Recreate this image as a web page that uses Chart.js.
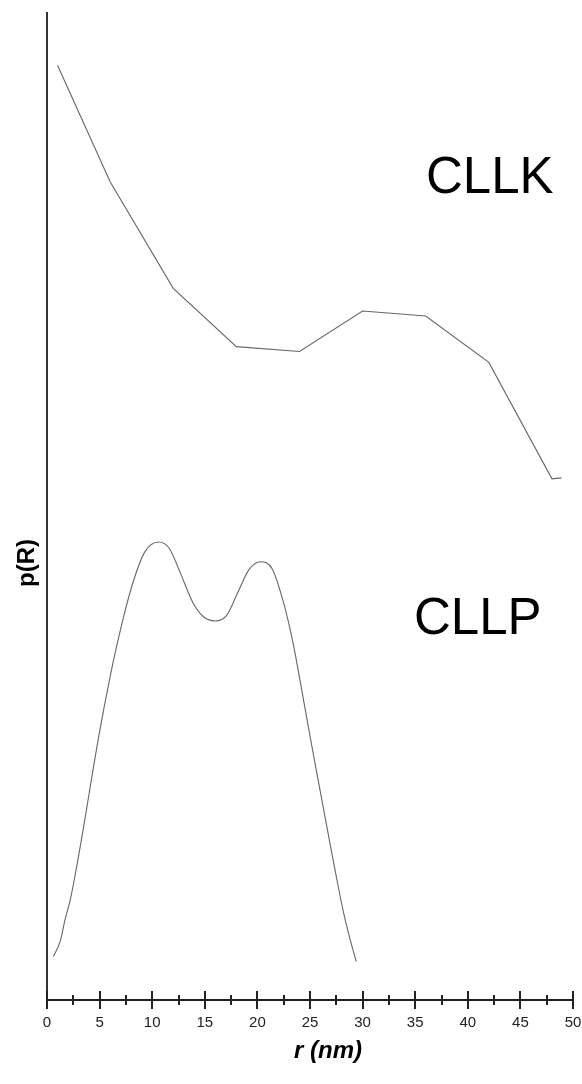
<!DOCTYPE html>
<html>
<head>
<meta charset="utf-8">
<script src="https://cdn.jsdelivr.net/npm/chart.js@4.4.1/dist/chart.umd.min.js"></script>
<style>
  html, body { margin: 0; padding: 0; background: #ffffff; }
  #wrap { position: relative; width: 582px; height: 1084px; }
</style>
</head>
<body>
<div id="wrap"><canvas id="chart" width="582" height="1084"></canvas></div>
<script>
// Pair-distance distribution p(R) for two samples (arbitrary units)
const clllkR = [1, 6, 12, 18, 24, 30, 36, 42, 48, 48.9];
const clllkP = [94.7, 82.9, 72.1, 66.2, 65.7, 69.8, 69.3, 64.6, 52.8, 52.9];

const clllpR = [0.6, 1.3, 1.7, 2.2, 2.7, 3.2, 3.6, 4.0, 4.4, 4.9, 5.4, 5.9, 6.3, 7.3, 8.2, 9.3, 10.6, 11.6,
                12.7, 13.9, 14.9, 16.0, 17.1, 18.1, 19.2, 20.3, 21.4, 22.5, 23.4, 24.1, 24.7, 25.3, 26.0,
                26.7, 27.5, 28.2, 28.8, 29.4];
const clllpP = [4.4, 6.1, 8.1, 10.1, 12.8, 15.8, 18.3, 20.9, 23.5, 26.6, 29.5, 32.2, 34.3, 38.9, 42.4, 45.4, 46.4, 45.8,
                43.2, 40.2, 38.8, 38.4, 39.0, 41.2, 43.6, 44.4, 43.7, 40.2, 36.1, 32.1, 28.5, 25.0, 21.0,
                17.0, 12.5, 8.8, 6.2, 3.9];

const xTickStep = 5;
const xMinorStep = 2.5;
const xMin = 0, xMax = 50;
const yMin = 0, yMax = 100;

const seriesLabels = ['CLLK', 'CLLP'];
const axisTitleX = 'r (nm)';
const axisTitleY = 'p(R)';

const toPoints = (xs, ys) => xs.map((x, i) => ({ x: x, y: ys[i] }));

// Axis ticks crossing the x axis line, plus free-standing labels
const decorations = {
  id: 'decorations',
  afterDraw(chart) {
    const { ctx, scales: { x, y } } = chart;
    const axisY = y.getPixelForValue(yMin);
    ctx.save();
    ctx.strokeStyle = '#222';
    ctx.lineWidth = 2;
    for (let v = xMin; v <= xMax + 1e-9; v += xMinorStep) {
      const px = Math.round(x.getPixelForValue(v));
      const major = Math.abs(v / xTickStep - Math.round(v / xTickStep)) < 1e-9;
      const half = major ? 9 : 5;
      ctx.beginPath();
      ctx.moveTo(px, axisY - half);
      ctx.lineTo(px, axisY + half);
      ctx.stroke();
    }

    ctx.fillStyle = '#000';
    ctx.textBaseline = 'alphabetic';
    ctx.textAlign = 'left';
    ctx.font = '51px "Liberation Sans", Arial, sans-serif';
    ctx.fillText(seriesLabels[0], 426, 193);
    ctx.fillText(seriesLabels[1], 414, 634);

    ctx.textAlign = 'center';
    ctx.textBaseline = 'middle';
    ctx.font = 'italic bold 24px "Liberation Sans", Arial, sans-serif';
    ctx.fillText(axisTitleX, 328, 1051);

    ctx.save();
    ctx.translate(27, 563);
    ctx.rotate(-Math.PI / 2);
    ctx.font = 'bold 24px "Liberation Sans", Arial, sans-serif';
    ctx.fillText(axisTitleY, 0, 0);
    ctx.restore();
    ctx.restore();
  }
};

new Chart(document.getElementById('chart'), {
  type: 'scatter',
  data: {
    datasets: [
      {
        label: seriesLabels[0],
        data: toPoints(clllkR, clllkP),
        showLine: true,
        borderColor: '#666',
        borderWidth: 1.1,
        pointRadius: 0,
        tension: 0
      },
      {
        label: seriesLabels[1],
        data: toPoints(clllpR, clllpP),
        showLine: true,
        borderColor: '#666',
        borderWidth: 1.1,
        pointRadius: 0,
        cubicInterpolationMode: 'monotone'
      }
    ]
  },
  options: {
    responsive: false,
    animation: false,
    devicePixelRatio: 1,
    layout: { padding: { left: 47, right: 9, top: 13, bottom: 54 } },
    plugins: { legend: { display: false }, tooltip: { enabled: false } },
    scales: {
      x: {
        type: 'linear',
        min: xMin,
        max: xMax,
        grid: { display: false, drawTicks: false },
        border: { display: true, color: '#222', width: 2 },
        ticks: {
          stepSize: xTickStep,
          padding: 14,
          color: '#222',
          font: { family: '"Liberation Sans", Arial, sans-serif', size: 15 },
          maxRotation: 0
        },
        afterFit(scale) {
          scale.height = 30;
          scale.paddingLeft = 0;
          scale.paddingRight = 0;
        }
      },
      y: {
        type: 'linear',
        min: yMin,
        max: yMax,
        grid: { display: false, drawTicks: false },
        border: { display: true, color: '#333', width: 2 },
        ticks: { display: false },
        afterFit(scale) {
          scale.width = 0;
          scale.paddingTop = 0;
          scale.paddingBottom = 0;
        }
      }
    }
  },
  plugins: [decorations]
});
</script>
</body>
</html>
